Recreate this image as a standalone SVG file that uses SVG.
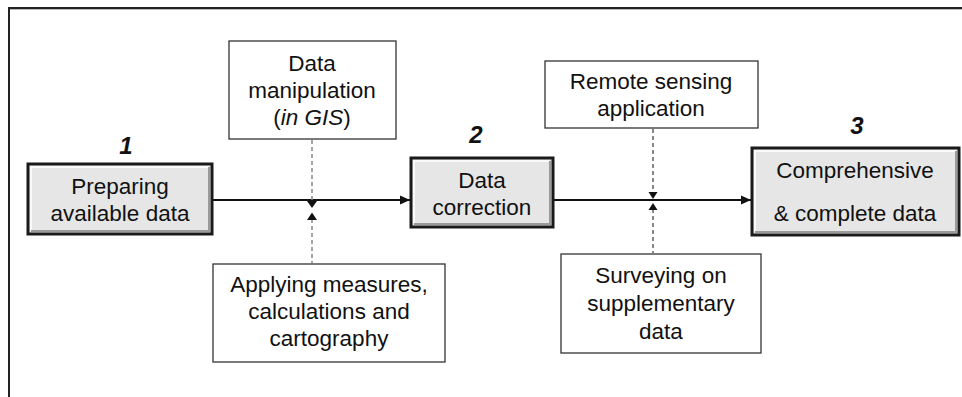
<svg xmlns="http://www.w3.org/2000/svg" width="962" height="397" viewBox="0 0 962 397">
<style>
text{font-family:"Liberation Sans",Arial,sans-serif;font-size:22.5px;fill:#111;text-anchor:middle}
.num{font-weight:bold;font-style:italic;font-size:24px}
.box{fill:#fff;stroke:#333;stroke-width:1.3}
.main{fill:#e6e6e6;stroke:#1a1a1a;stroke-width:3}
.hl{fill:none;stroke:#fafafa;stroke-width:2}
.sh{fill:none;stroke:#9a9a9a;stroke-width:2}
.conn{stroke:#111;stroke-width:2;fill:none}
.dash1{stroke:#888;stroke-width:1.5;stroke-dasharray:4 3;fill:none}
.dash2{stroke:#111;stroke-width:1;stroke-dasharray:4 3;fill:none}
</style>
<defs>
<marker id="ah" markerWidth="12" markerHeight="12" refX="10" refY="6" orient="auto" markerUnits="userSpaceOnUse">
<path d="M0,1.5 L10,6 L0,10.5 Z" fill="#111"/>
</marker>
</defs>
<path d="M9,397 V8 H962" fill="none" stroke="#222" stroke-width="2"/>
<path d="M10,9.5 H962" stroke="#bbb" stroke-width="1"/>

<g id="connectors">
<line class="conn" x1="212" y1="200" x2="410" y2="200" marker-end="url(#ah)"/>
<line class="conn" x1="553" y1="200" x2="751" y2="200" marker-end="url(#ah)"/>
<line class="dash1" x1="312" y1="140" x2="312" y2="202"/>
<path d="M307,201 L317,201 L312,208 Z" fill="#111"/>
<line class="dash1" x1="312" y1="219" x2="312" y2="263"/>
<path d="M307,220 L317,220 L312,212.5 Z" fill="#111"/>
<line class="dash2" x1="653" y1="129" x2="653" y2="193"/>
<path d="M648.5,192 L657.5,192 L653,199 Z" fill="#111"/>
<line class="dash2" x1="653" y1="209" x2="653" y2="253"/>
<path d="M648.5,210 L657.5,210 L653,203 Z" fill="#111"/>
</g>

<g id="n1">
<rect class="main" x="28" y="164" width="184" height="70"/>
<path class="hl" d="M31,231 V167 H209"/>
<path class="sh" d="M31,231 H209 V167"/>
<text x="120" y="194">Preparing</text>
<text x="120" y="221">available data</text>
<text class="num" x="126" y="154">1</text>
</g>

<g id="n2">
<rect class="main" x="411" y="158" width="142" height="69"/>
<path class="hl" d="M414,224 V161 H550"/>
<path class="sh" d="M414,224 H550 V161"/>
<text x="482" y="188">Data</text>
<text x="482" y="215">correction</text>
<text class="num" x="476" y="143">2</text>
</g>

<g id="n3">
<rect class="main" x="752" y="148" width="207" height="87"/>
<path class="hl" d="M755,232 V151 H956"/>
<path class="sh" d="M755,232 H956 V151"/>
<text x="855" y="178">Comprehensive</text>
<text x="855" y="221">&amp; complete data</text>
<text class="num" x="857" y="134">3</text>
</g>

<g id="n4">
<rect class="box" x="229" y="41" width="167" height="98"/>
<text x="312" y="71">Data</text>
<text x="312" y="98">manipulation</text>
<text x="312" y="125">(<tspan font-style="italic">in GIS</tspan>)</text>
</g>

<g id="n5">
<rect class="box" x="213" y="264" width="232" height="98"/>
<text x="329" y="292">Applying measures,</text>
<text x="329" y="319">calculations and</text>
<text x="329" y="346">cartography</text>
</g>

<g id="n6">
<rect class="box" x="545" y="61" width="213" height="67"/>
<text x="651" y="89">Remote sensing</text>
<text x="651" y="116">application</text>
</g>

<g id="n7">
<rect class="box" x="561" y="254" width="200" height="99"/>
<text x="661" y="283">Surveying on</text>
<text x="661" y="311">supplementary</text>
<text x="661" y="339">data</text>
</g>
</svg>
